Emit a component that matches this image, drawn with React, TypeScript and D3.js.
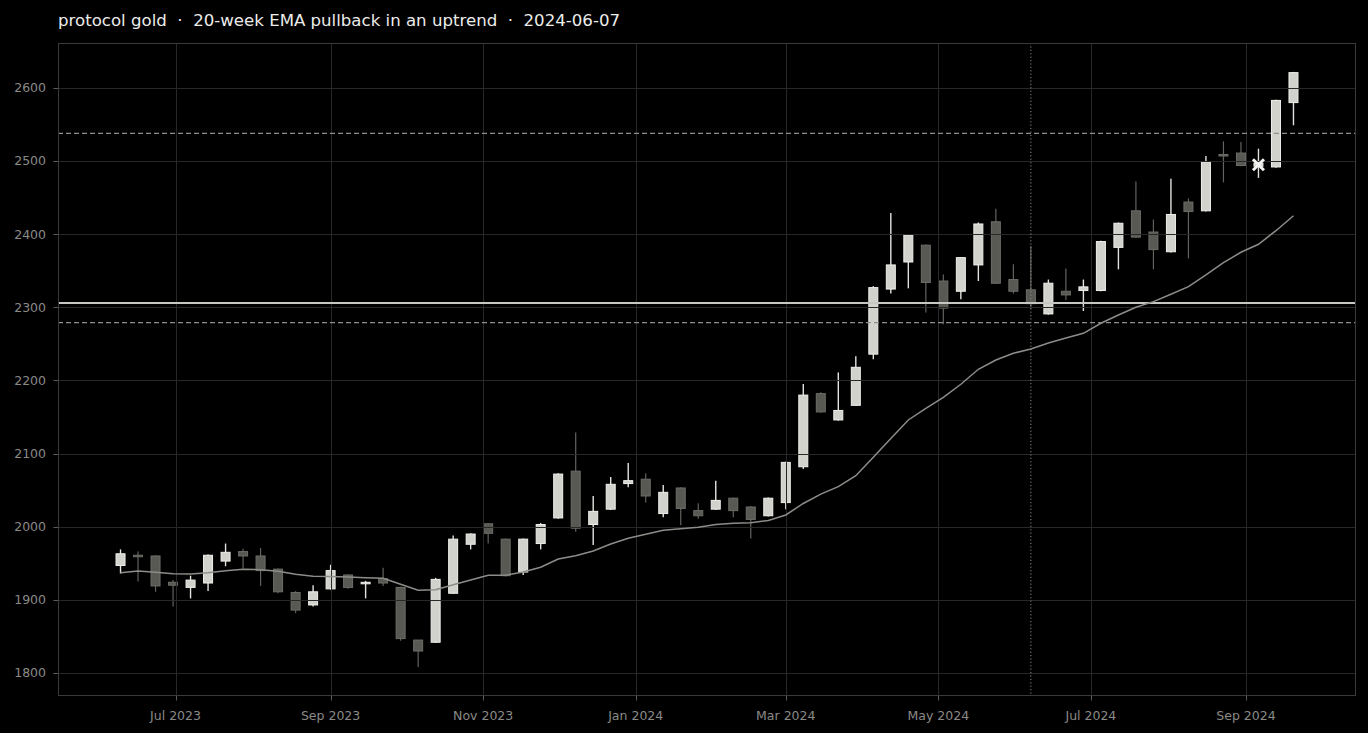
import React, { useEffect, useRef } from 'react';
import * as d3 from 'd3';

// weekly candles, one per Friday close
const firstWeek = '2023-06-09';
const lastWeek = '2024-09-20';

const opens = [
  1947, 1961, 1960, 1924, 1917, 1923, 1953, 1966, 1960, 1942, 1910, 1893, 1915, 1934, 1923, 1929, 1917,
  1845, 1842, 1909, 1976, 2004, 1983, 1938, 1977, 2012, 2076, 2003, 2024, 2059, 2065, 2018, 2053, 2022,
  2024, 2039, 2027, 2015, 2033, 2082, 2182, 2146, 2166, 2236, 2325, 2362, 2385, 2336, 2322, 2358, 2417,
  2338, 2324, 2291, 2322, 2323, 2323, 2382, 2432, 2403, 2376, 2444, 2432, 2509, 2511, 2493, 2492, 2580,
];
const highs = [
  1969, 1966, 1961, 1927, 1933, 1962, 1977, 1970, 1971, 1943, 1912, 1920, 1948, 1935, 1926, 1944, 1918,
  1845, 1930, 1988, 1991, 2005, 1984, 1984, 2005, 2073, 2129, 2042, 2068, 2087, 2073, 2057, 2054, 2032,
  2063, 2040, 2028, 2040, 2089, 2195, 2184, 2211, 2233, 2329, 2429, 2400, 2386, 2345, 2369, 2416, 2435,
  2359, 2384, 2338, 2353, 2338, 2391, 2416, 2472, 2420, 2476, 2449, 2507, 2527, 2526, 2517, 2584, 2622,
];
const lows = [
  1936, 1925, 1911, 1891, 1902, 1912, 1946, 1943, 1919, 1909, 1882, 1891, 1914, 1915, 1902, 1919, 1844,
  1808, 1841, 1908, 1969, 1977, 1932, 1934, 1969, 2011, 1993, 1975, 2023, 2054, 2033, 2013, 2002, 2011,
  2023, 2013, 1984, 2014, 2024, 2079, 2156, 2145, 2165, 2229, 2319, 2326, 2293, 2277, 2311, 2336, 2332,
  2319, 2298, 2290, 2310, 2295, 2322, 2352, 2395, 2352, 2375, 2367, 2431, 2471, 2493, 2477, 2491, 2549,
];
const closes = [
  1963, 1959, 1919, 1920, 1927, 1961, 1965, 1960, 1940, 1911, 1886, 1911, 1940, 1917, 1924, 1923, 1847,
  1830, 1928, 1983, 1990, 1991, 1933, 1983, 2003, 2072, 1998, 2021, 2058, 2063, 2042, 2047, 2025, 2015,
  2036, 2022, 2010, 2039, 2088, 2180, 2157, 2159, 2218, 2327, 2358, 2399, 2334, 2299, 2368, 2414, 2333,
  2322, 2305, 2333, 2317, 2328, 2390, 2415, 2396, 2379, 2427, 2431, 2499, 2508, 2494, 2497, 2583, 2621,
];
const ema20 = [
  1937, 1939.5, 1937.7, 1935.8, 1935.4, 1937.2, 1939.9, 1941.8, 1941.3, 1939.1, 1935, 1932.2, 1932,
  1931.3, 1930.3, 1929.6, 1921.3, 1913.2, 1913.8, 1920.6, 1927.2, 1933.6, 1933.6, 1938.1, 1944.5, 1955.9,
  1960.4, 1966.8, 1976.4, 1984.2, 1989.7, 1995.1, 1997.3, 1999.3, 2003.1, 2004.7, 2005.5, 2008.5, 2016.1,
  2031.8, 2044.5, 2054.8, 2069.8, 2095.1, 2120.7, 2146, 2162, 2177, 2194.8, 2215.3, 2228, 2237.2, 2243.1,
  2251.3, 2258.1, 2264.5, 2278.2, 2289.6, 2300.1, 2307.8, 2317.9, 2328.3, 2344.3, 2361.1, 2375.3, 2386.3,
  2404.8, 2425.3,
];

const yTicks = [1800, 1900, 2000, 2100, 2200, 2300, 2400, 2500, 2600];
const pivotLevel = 2306;
const bandLevels = [2538, 2279];
const signalDate = '2024-06-07';
const markerDate = '2024-09-06';
const markerPrice = 2495;
const title = 'protocol gold  \u00b7  20-week EMA pullback in an uptrend  \u00b7  2024-06-07';

const App: React.FC = () => {
  const chartRef = useRef<SVGSVGElement>(null);

  useEffect(() => {
    if (!chartRef.current) return;
    const width = 1368;
    const height = 733;
    const margin = { top: 43, right: 12, bottom: 37, left: 58 };
    const svg = d3.select(chartRef.current);
    svg.selectAll('*').remove();

    const dates = d3.utcFriday.range(new Date(firstWeek), d3.utcDay.offset(new Date(lastWeek), 1));
    const data = dates.map((d, i) => ({
      date: d,
      open: opens[i],
      high: highs[i],
      low: lows[i],
      close: closes[i],
      ema: ema20[i],
    }));

    const x = d3
      .scaleUtc()
      .domain([new Date('2023-05-15'), new Date('2024-10-15')])
      .range([margin.left, width - margin.right]);
    const y = d3
      .scaleLinear()
      .domain([1768.5, 2661.5])
      .range([height - margin.bottom, margin.top]);

    const bodyW = 9;
    const font = '"DejaVu Sans", sans-serif';

    svg.append('rect').attr('width', width).attr('height', height).attr('fill', '#000');

    // wicks
    svg
      .append('g')
      .selectAll('line')
      .data(data)
      .join('line')
      .attr('x1', (d) => x(d.date))
      .attr('x2', (d) => x(d.date))
      .attr('y1', (d) => y(d.high))
      .attr('y2', (d) => y(d.low))
      .attr('stroke', (d) => (d.close >= d.open ? '#e2e2de' : '#62625e'))
      .attr('stroke-width', (d) => (d.close >= d.open ? 1.4 : 1.2));

    // bodies
    svg
      .append('g')
      .selectAll('rect')
      .data(data)
      .join('rect')
      .attr('x', (d) => x(d.date) - bodyW / 2)
      .attr('width', bodyW)
      .attr('y', (d) => y(Math.max(d.open, d.close)))
      .attr('height', (d) => Math.max(1.5, Math.abs(y(d.open) - y(d.close))))
      .attr('fill', (d) => (d.close >= d.open ? '#d2d2cd' : '#595954'))
      .attr('stroke', (d) => (d.close >= d.open ? '#efefeb' : '#6d6d68'))
      .attr('stroke-width', 1);

    // grid drawn over the candles
    const xTicks = x.ticks(d3.utcMonth.every(2));
    const grid = svg.append('g').attr('stroke', '#282828').attr('stroke-width', 1);
    grid
      .selectAll('.gy')
      .data(yTicks)
      .join('line')
      .attr('x1', margin.left)
      .attr('x2', width - margin.right)
      .attr('y1', (d) => Math.round(y(d)) + 0.5)
      .attr('y2', (d) => Math.round(y(d)) + 0.5);
    grid
      .selectAll('.gx')
      .data(xTicks)
      .join('line')
      .attr('y1', margin.top)
      .attr('y2', height - margin.bottom)
      .attr('x1', (d) => Math.round(x(d)) + 0.5)
      .attr('x2', (d) => Math.round(x(d)) + 0.5);

    // reference levels
    svg
      .append('g')
      .selectAll('line')
      .data(bandLevels)
      .join('line')
      .attr('x1', margin.left)
      .attr('x2', width - margin.right)
      .attr('y1', (d) => y(d))
      .attr('y2', (d) => y(d))
      .attr('stroke', '#8e8e8a')
      .attr('stroke-width', 1.3)
      .attr('stroke-dasharray', '5,3');
    svg
      .append('line')
      .attr('x1', margin.left)
      .attr('x2', width - margin.right)
      .attr('y1', y(pivotLevel))
      .attr('y2', y(pivotLevel))
      .attr('stroke', '#c6c6c2')
      .attr('stroke-width', 2);

    // signal week
    svg
      .append('line')
      .attr('x1', x(new Date(signalDate)))
      .attr('x2', x(new Date(signalDate)))
      .attr('y1', margin.top)
      .attr('y2', height - margin.bottom)
      .attr('stroke', '#8a8a86')
      .attr('stroke-width', 1)
      .attr('stroke-dasharray', '1.2,2.2');

    // EMA
    const line = d3
      .line<(typeof data)[number]>()
      .x((d) => x(d.date))
      .y((d) => y(d.ema));
    svg
      .append('path')
      .datum(data)
      .attr('fill', 'none')
      .attr('stroke', '#8c8c88')
      .attr('stroke-width', 1.5)
      .attr('d', line);

    // entry marker
    const mx = x(new Date(markerDate));
    const my = y(markerPrice);
    const s = 5.5;
    svg
      .append('path')
      .attr('d', `M${mx - s},${my - s}L${mx + s},${my + s}M${mx - s},${my + s}L${mx + s},${my - s}`)
      .attr('stroke', '#f4f4f2')
      .attr('stroke-width', 3)
      .attr('fill', 'none');

    // frame
    svg
      .append('rect')
      .attr('x', margin.left + 0.5)
      .attr('y', margin.top + 0.5)
      .attr('width', width - margin.left - margin.right - 1)
      .attr('height', height - margin.top - margin.bottom - 1)
      .attr('fill', 'none')
      .attr('stroke', '#3a3a3a')
      .attr('stroke-width', 1);

    // y axis
    const yAxis = svg.append('g');
    yAxis
      .selectAll('line')
      .data(yTicks)
      .join('line')
      .attr('x1', margin.left - 4.5)
      .attr('x2', margin.left)
      .attr('y1', (d) => Math.round(y(d)) + 0.5)
      .attr('y2', (d) => Math.round(y(d)) + 0.5)
      .attr('stroke', '#5a5a5a');
    yAxis
      .selectAll('text')
      .data(yTicks)
      .join('text')
      .attr('x', margin.left - 12)
      .attr('y', (d) => y(d))
      .attr('dy', '0.35em')
      .attr('text-anchor', 'end')
      .attr('font-family', font)
      .attr('font-size', 12.5)
      .attr('fill', '#8a8a86')
      .text((d) => d);

    // x axis
    const xAxis = svg.append('g');
    xAxis
      .selectAll('line')
      .data(xTicks)
      .join('line')
      .attr('x1', (d) => Math.round(x(d)) + 0.5)
      .attr('x2', (d) => Math.round(x(d)) + 0.5)
      .attr('y1', height - margin.bottom)
      .attr('y2', height - margin.bottom + 4.5)
      .attr('stroke', '#5a5a5a');
    xAxis
      .selectAll('text')
      .data(xTicks)
      .join('text')
      .attr('x', (d) => x(d))
      .attr('y', height - margin.bottom + 23.5)
      .attr('text-anchor', 'middle')
      .attr('font-family', font)
      .attr('font-size', 12.5)
      .attr('fill', '#8a8a86')
      .text((d) => d3.utcFormat('%b %Y')(d));

    svg
      .append('text')
      .attr('x', margin.left)
      .attr('y', 26)
      .attr('font-family', font)
      .attr('font-size', 16.6)
      .attr('fill', '#ececea')
      .style('white-space', 'pre')
      .text(title);
  }, []);

  return (
    <svg
      ref={chartRef}
      width={1368}
      height={733}
      style={{ position: 'absolute', left: 0, top: 0, display: 'block' }}
    ></svg>
  );
};

export default App;
